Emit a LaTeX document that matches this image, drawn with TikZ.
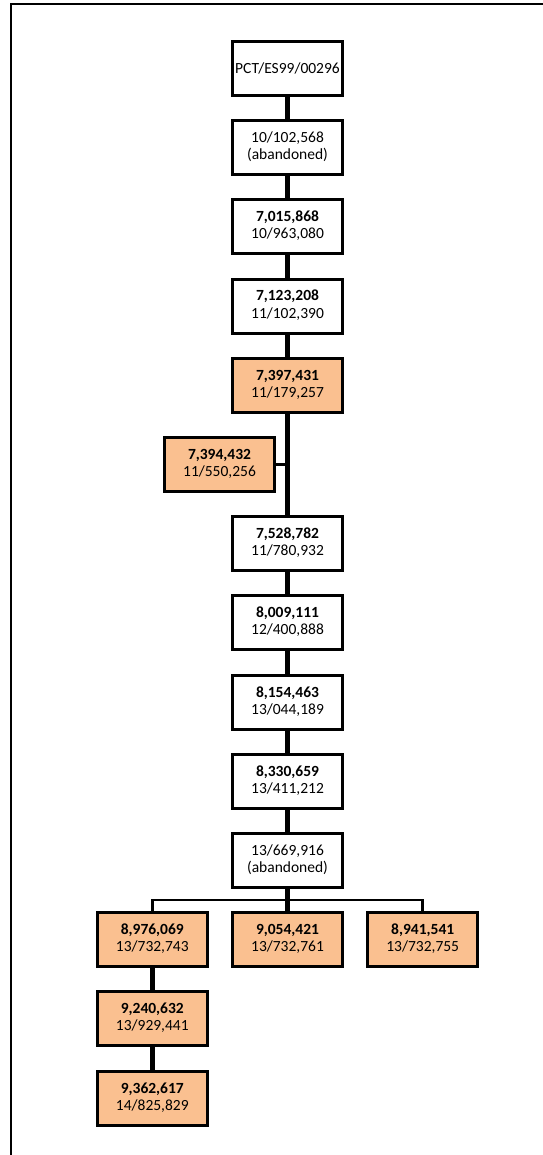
\documentclass[tikz,border=0pt]{standalone}
\usepackage{fontspec}
\setmainfont{Carlito}
\usetikzlibrary{positioning}
\usetikzlibrary{shadows}
\usetikzlibrary{calc}

\begin{document}
\begin{tikzpicture}
    [x=1pt,y=1pt,node distance=22.2pt and 22.2pt,
     box/.style={rectangle,minimum width=110pt,minimum height=54pt,inner sep=0pt,line width=3pt,fill=white,font=\fontsize{15.5}{17}\selectfont,drop shadow={opacity=0.25,shadow xshift=1.5pt,shadow yshift=-1.5pt},draw},
     granted/.style={box,fill=peach},
     trunk/.style={line width=5pt},
     branch/.style={line width=2.5pt}]
    \definecolor{peach}{RGB}{250,192,144};
    \useasboundingbox (0,0) rectangle (542,-1155);
    % frame
    \draw[line width=2.5pt] (11,-1160) -- (11,-4) -- (550,-4);
    \node [box] (PCT) at (287.5,-68.5) {PCT/ES99/00296};
    \node [box,below= of PCT] (Aband1) {\begin{tabular}{@{}c@{}} 10/102,568\\(abandoned)\end{tabular}};
    \node [box,below= of Aband1] (Pat015) {\begin{tabular}{@{}c@{}} \textbf{7,015,868}\\10/963,080\end{tabular}};
    \node [box,below= of Pat015] (Pat123) {\begin{tabular}{@{}c@{}} \textbf{7,123,208}\\11/102,390\end{tabular}};
    \node [granted,below= of Pat123] (Pat397) {\begin{tabular}{@{}c@{}} \textbf{7,397,431}\\11/179,257\end{tabular}};
    \node [granted,below= of Pat397,xshift=-68pt] (Pat394) {\begin{tabular}{@{}c@{}} \textbf{7,394,432}\\11/550,256\end{tabular}};
    \node [box,below= of Pat394,xshift=68pt] (Pat528) {\begin{tabular}{@{}c@{}} \textbf{7,528,782}\\11/780,932\end{tabular}};
    \node [box,below= of Pat528] (Pat009) {\begin{tabular}{@{}c@{}} \textbf{8,009,111}\\12/400,888\end{tabular}};
    \node [box,below= of Pat009] (Pat154) {\begin{tabular}{@{}c@{}} \textbf{8,154,463}\\13/044,189\end{tabular}};
    \node [box,below= of Pat154] (Pat330) {\begin{tabular}{@{}c@{}} \textbf{8,330,659}\\13/411,212\end{tabular}};
    \node [box,below= of Pat330] (Aband2) {\begin{tabular}{@{}c@{}} 13/669,916\\(abandoned)\end{tabular}};
    \node [granted,below= of Aband2] (Pat054) {\begin{tabular}{@{}c@{}} \textbf{9,054,421}\\13/732,761\end{tabular}};
    \node [granted,left= of Pat054] (Pat976) {\begin{tabular}{@{}c@{}} \textbf{8,976,069}\\13/732,743\end{tabular}};
    \node [granted,right= of Pat054] (Pat941) {\begin{tabular}{@{}c@{}} \textbf{8,941,541}\\13/732,755\end{tabular}};
    \node [granted,below= of Pat976] (Pat240) {\begin{tabular}{@{}c@{}} \textbf{9,240,632}\\13/929,441\end{tabular}};
    \node [granted,below= of Pat240] (Pat362) {\begin{tabular}{@{}c@{}} \textbf{9,362,617}\\14/825,829\end{tabular}};
    % main line
    \draw[trunk] (PCT) -- (Aband1);
    \draw[trunk] (Aband1) -- (Pat015);
    \draw[trunk] (Pat015) -- (Pat123);
    \draw[trunk] (Pat123) -- (Pat397);
    \draw[trunk] (Pat397) -- (Pat528);
    \draw[trunk] (Pat528) -- (Pat009);
    \draw[trunk] (Pat009) -- (Pat154);
    \draw[trunk] (Pat154) -- (Pat330);
    \draw[trunk] (Pat330) -- (Aband2);
    \draw[trunk] (Aband2) -- (Pat054);
    \draw[trunk] (Pat976) -- (Pat240);
    \draw[trunk] (Pat240) -- (Pat362);
    % side branches
    \coordinate (SideJoin) at (Pat394.east -| Pat397.south);
    \draw[branch] (Pat394) -- (SideJoin);
    \coordinate (Fork) at ($(Aband2.south)!0.5!(Pat054.north)$);
    \draw[branch] (Pat976) |- (Fork) -| (Pat941);
\end{tikzpicture}
\end{document}
